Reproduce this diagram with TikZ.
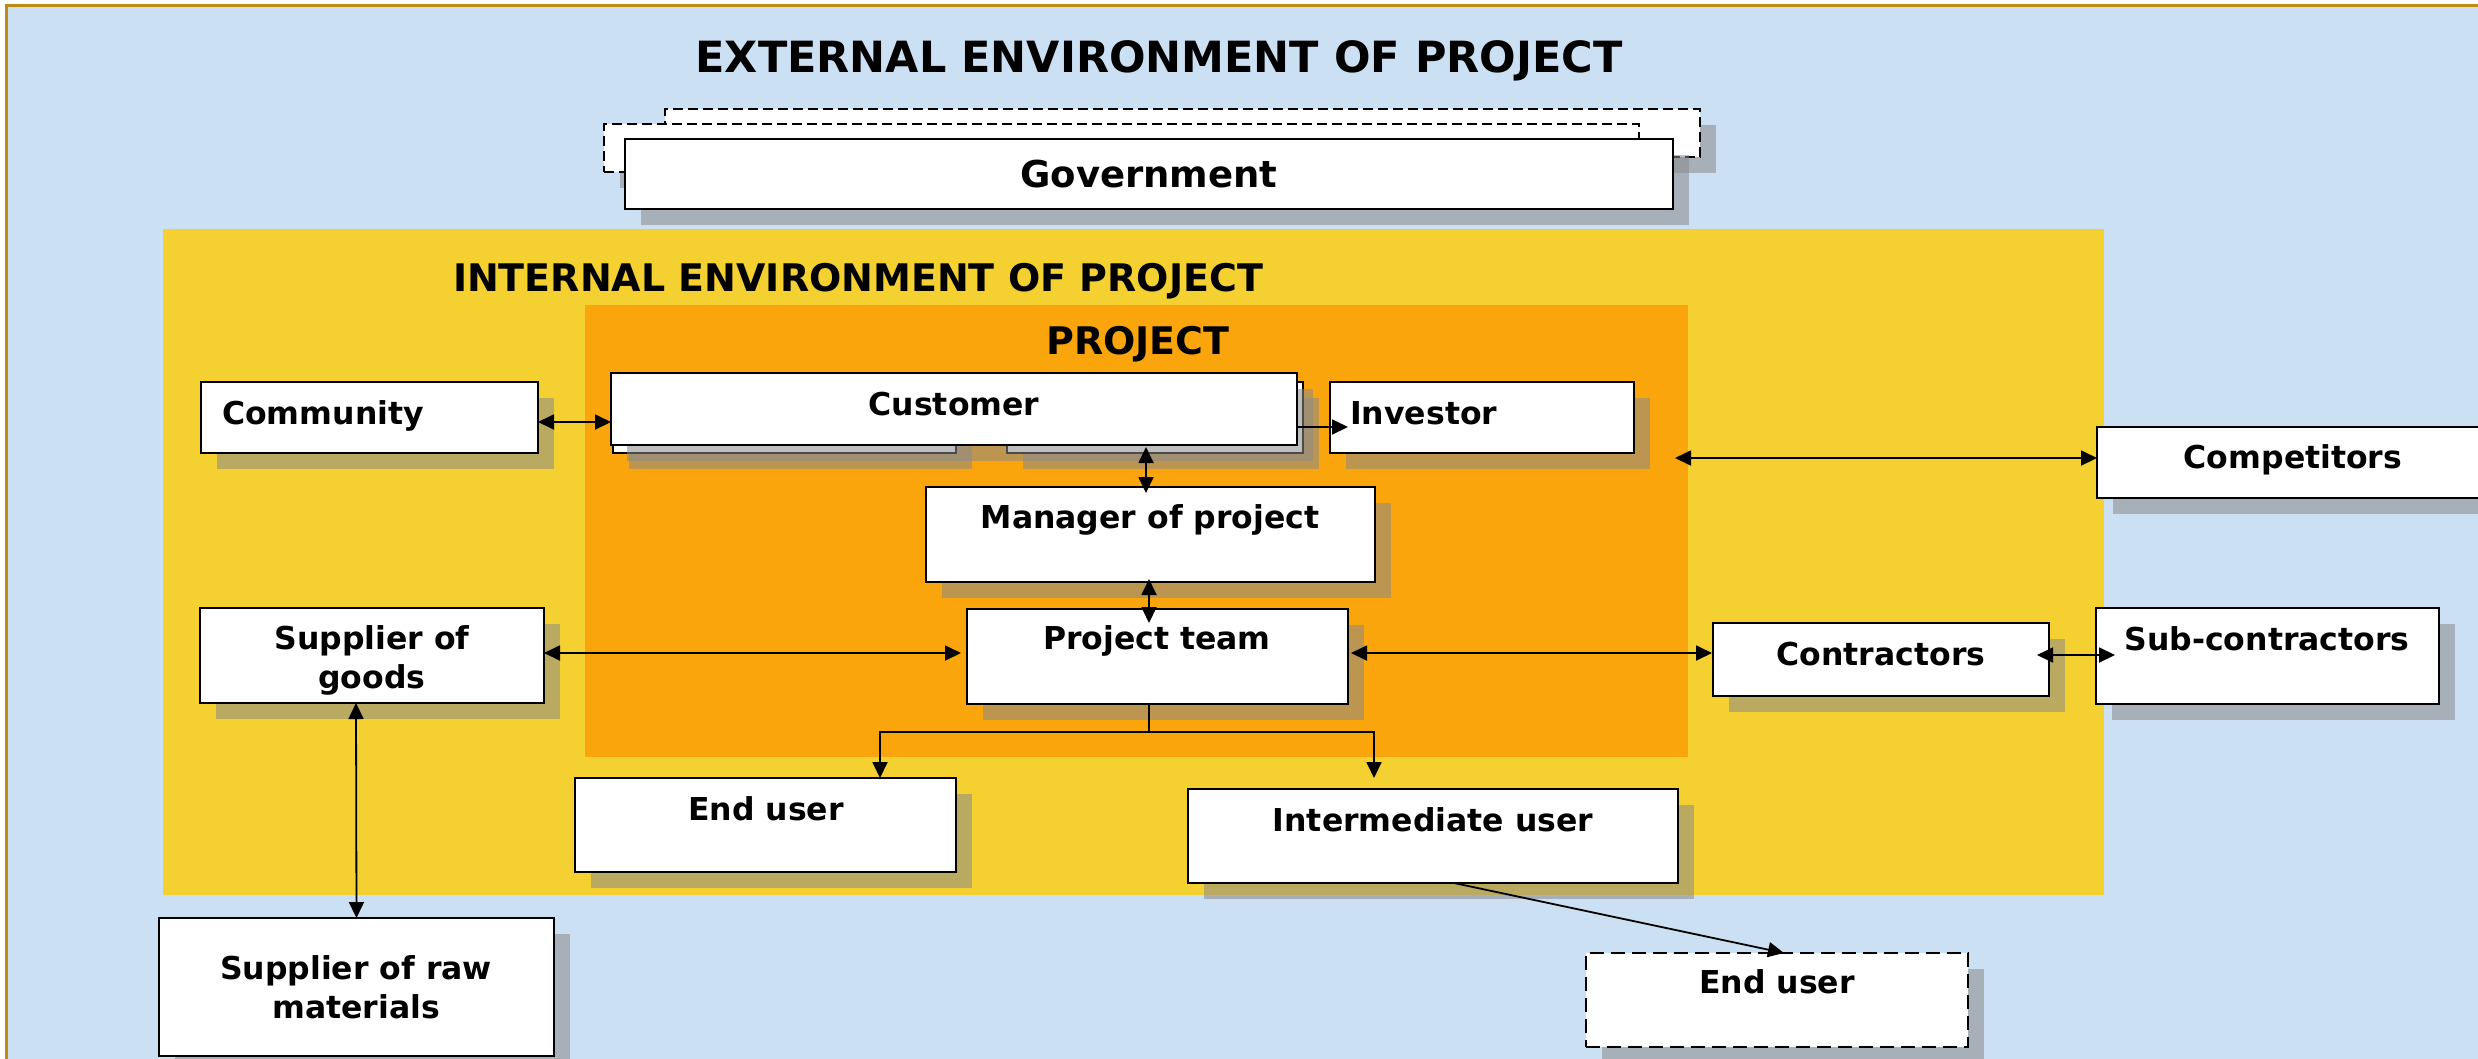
\documentclass[tikz,border=0pt]{standalone}
\usepackage{fontspec}
\setmainfont{DejaVu Sans}
\usetikzlibrary{arrows.meta,shadows}
\definecolor{bgblue}{RGB}{204,224,243}
\definecolor{frameor}{RGB}{192,138,16}
\definecolor{envyellow}{RGB}{244,208,48}
\definecolor{projorange}{RGB}{251,165,12}
\tikzset{
  shd/.style={drop shadow={shadow xshift=16pt, shadow yshift=-16pt, opacity=.55, fill=black!46}},
  bx/.style={draw=black, line width=2.6pt, fill=white, inner sep=0pt, outer sep=0pt, shd},
  dbx/.style={bx, line width=2pt, dash pattern=on 10pt off 5pt},
  dbxb/.style={bx, line width=2.4pt, dash pattern=on 14pt off 7pt},
  region/.style={draw=none, inner sep=0pt, outer sep=0pt},
  txt/.style={font=\fontsize{31.5}{38}\selectfont\bfseries, inner sep=0pt, anchor=base},
  ltxt/.style={txt, anchor=base west},
  tip/.tip={Triangle[length=16pt,width=15pt]},
  ln/.style={line width=1.8pt, draw=black},
  arr/.style={ln, -tip},
  darr/.style={ln, tip-tip}
}
\newcommand\mybox[6]{\node[#6, minimum width={#4pt-#2pt}, minimum height={#5pt-#3pt}] (#1) at ({(#2+#4)/2},{(#3+#5)/2}) {};}
\begin{document}
\begin{tikzpicture}[x=1pt,y=-1pt]
\useasboundingbox (0,0) rectangle (2478,1058);
% outer frame
\fill[bgblue] (6,5.5) rectangle (2490,1070);
\draw[frameor, line width=3pt] (6,1070) -- (6,5.5) -- (2490,5.5);
\node[txt, font=\fontsize{43}{50}\selectfont\bfseries] (exttitle) at (1159,72) {EXTERNAL ENVIRONMENT OF PROJECT};
% government stack
\mybox{govA}{665}{109}{1700}{157}{dbx}
\mybox{govB}{604}{124}{1639}{172}{dbx}
\mybox{gov}{625}{139}{1673}{209}{bx}
\node[txt, font=\fontsize{37}{44}\selectfont\bfseries] (govt) at (1149,187) {Government};
% internal environment
\mybox{internal}{163}{229}{2104}{895}{region, fill=envyellow}
\node[txt, font=\fontsize{38}{44}\selectfont\bfseries] (inttitle) at (858,291) {INTERNAL ENVIRONMENT OF PROJECT};
\mybox{project}{585}{305}{1688}{757}{region, fill=projorange}
\node[txt, font=\fontsize{38}{44}\selectfont\bfseries] (projtitle) at (1138,354) {PROJECT};
% boxes
\mybox{com}{201}{382}{538}{453}{bx}
\node[ltxt] (comt) at (222,424) {Community};
\mybox{cusA}{613}{381}{956}{453}{bx}
\mybox{cusB}{1007}{382}{1303}{453}{bx}
\mybox{cus}{611}{373}{1297}{445}{bx}
\node[txt] (cust) at (954,415) {Customer};
\mybox{inv}{1330}{382}{1634}{453}{bx}
\node[ltxt] (invt) at (1350,424) {Investor};
\mybox{comp}{2097}{427}{2495}{498}{bx}
\node[txt] (compt) at (2293,468) {Competitors};
\mybox{mgr}{926}{487}{1375}{582}{bx}
\node[txt] (mgrt) at (1150,528) {Manager of project};
\mybox{team}{967}{609}{1348}{704}{bx}
\node[txt] (teamt) at (1157,649) {Project team};
\mybox{sg}{200}{608}{544}{703}{bx}
\node[txt] (sgt1) at (372,649) {Supplier of};
\node[txt] (sgt2) at (372,688) {goods};
\mybox{con}{1713}{623}{2049}{696}{bx}
\node[txt] (cont) at (1881,665) {Contractors};
\mybox{sub}{2096}{608}{2439}{704}{bx}
\node[txt] (subt) at (2267,650) {Sub-contractors};
\mybox{euA}{575}{778}{956}{872}{bx}
\node[txt] (euAt) at (766,820) {End user};
\mybox{iu}{1188}{789}{1678}{883}{bx}
\node[txt] (iut) at (1433,831) {Intermediate user};
\mybox{raw}{159}{918}{554}{1056}{bx}
\node[txt] (rawt1) at (356,979) {Supplier of raw};
\node[txt] (rawt2) at (356,1018) {materials};
\mybox{euB}{1586}{953}{1968}{1047}{dbxb}
\node[txt] (euBt) at (1777,993) {End user};
% connectors
\coordinate (invin) at ([xshift=18pt]inv.west);
\coordinate (oe) at ([xshift=-13pt]project.east);
\draw[darr] ([yshift=-4.5pt]com.east) -- ([yshift=-4.5pt]com.east -| cus.west);
\draw[arr] ([yshift=-18pt]cus.east) -- ([yshift=-18pt]cus.east -| invin);
\draw[darr] ([xshift=192pt,yshift=-2pt]cus.south) -- ([xshift=-4.5pt,yshift=-6pt]mgr.north);
\draw[darr] ([xshift=-1.5pt,yshift=3pt]mgr.south) -- ([xshift=-8.5pt,yshift=-14pt]team.north);
\draw[darr] ([yshift=2.5pt]sg.east) -- ([xshift=-6pt,yshift=3.5pt]team.west);
\draw[darr] ([xshift=3pt,yshift=3.5pt]team.east) -- ([xshift=-1pt,yshift=6.5pt]con.west);
\draw[darr] ([xshift=-12pt,yshift=4.5pt]con.east) -- ([xshift=19pt,yshift=1pt]sub.west);
\draw[darr] ([yshift=4.5pt]comp.west -| oe) -- ([yshift=4.5pt]comp.west);
\draw[darr] ([xshift=-16pt]sg.south) -- (raw.north);
\coordinate (jn) at ([xshift=-8.5pt,yshift=-28pt]team.south);
\draw[ln] ([xshift=-8.5pt]team.south) -- (jn);
\draw[arr] (jn) -| ([xshift=114.5pt]euA.north);
\draw[arr] (jn) -| ([xshift=-59pt,yshift=11pt]iu.north);
\draw[arr] ([xshift=21pt]iu.south) -- ([xshift=7pt]euB.north);
\end{tikzpicture}
\end{document}
